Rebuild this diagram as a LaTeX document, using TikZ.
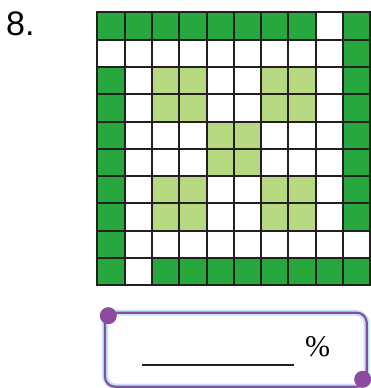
\documentclass[tikz,border=0pt]{standalone}
\usepackage{fontspec}
\setmainfont{Liberation Serif}
\newfontfamily\numfont{Liberation Sans}
\definecolor{dg}{HTML}{26A83F}
\definecolor{lg}{HTML}{B6D881}
\definecolor{gl}{HTML}{231F20}
\definecolor{pp}{HTML}{8E4A9E}
\definecolor{glowc}{HTML}{A6DCF2}
\tikzset{
  gridline/.style={line width=2pt, draw=gl, line cap=rect},
  boxglow/.style={draw=glowc, line width=6pt, rounded corners=11pt, opacity=0.7},
  boxline/.style={draw=pp, line width=2.2pt, rounded corners=10pt},
  dot/.style={fill=pp},
}
\begin{document}
\begin{tikzpicture}[x=1pt,y=-1pt]
\useasboundingbox (0,0) rectangle (370,388);
\def\xo{97.3}\def\yo{12.3}\def\cs{27.3}
% dark green cells
\foreach \c/\r in {0/0,1/0,2/0,3/0,4/0,5/0,6/0,7/0,9/0,
  9/1,9/2,9/3,9/4,9/5,9/6,9/7,
  0/2,0/3,0/4,0/5,0/6,0/7,0/8,0/9,
  2/9,3/9,4/9,5/9,6/9,7/9,8/9,9/9}{
  \fill[dg] (\xo+\c*\cs,\yo+\r*\cs) rectangle ++(\cs,\cs);
}
% light green cells
\foreach \c/\r in {2/2,3/2,6/2,7/2,2/3,3/3,6/3,7/3,4/4,5/4,4/5,5/5,
  2/6,3/6,6/6,7/6,2/7,3/7,6/7,7/7}{
  \fill[lg] (\xo+\c*\cs,\yo+\r*\cs) rectangle ++(\cs,\cs);
}
% grid lines
\foreach \i in {0,...,10}{
  \draw[gridline] (\xo+\i*\cs,\yo) -- (\xo+\i*\cs,\yo+10*\cs);
  \draw[gridline] (\xo,\yo+\i*\cs) -- (\xo+10*\cs,\yo+\i*\cs);
}
% answer box
\draw[boxglow] (105,312.7) rectangle (366.7,386.7);
\draw[boxline] (105,312.7) rectangle (366.7,386.7);
\fill[dot] (108.3,315.7) circle (8.5);
\fill[dot] (362.7,379.3) circle (8.5);
\coordinate (ua) at (141.7,365);
\coordinate (ub) at (294,365);
\draw[line width=1.3pt, gl] (ua) -- (ub);
\node[anchor=base, inner sep=0, font=\fontsize{30}{30}\selectfont] (pct) at (317.7,356) {\%};
\node[anchor=base west, inner sep=0, font=\numfont\fontsize{34}{34}\selectfont] (num) at (6,35.5) {8.};
\end{tikzpicture}
\end{document}
